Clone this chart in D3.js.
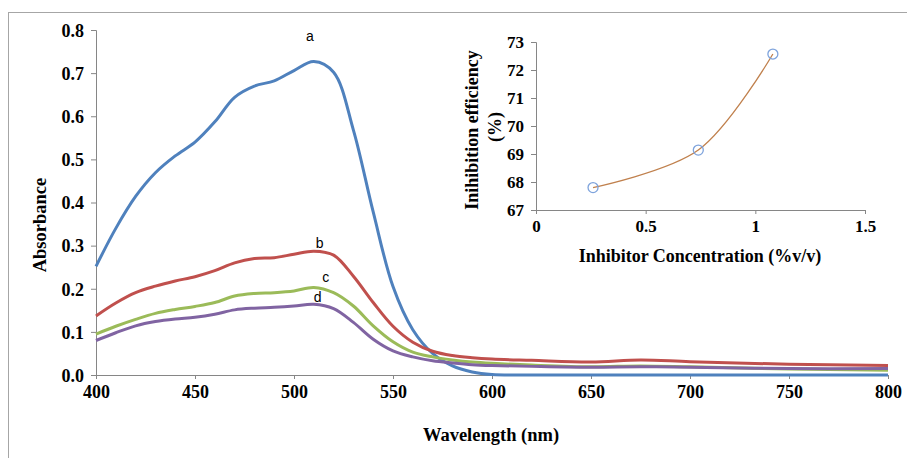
<!DOCTYPE html>
<meta charset="utf-8">
<style>
  body { margin: 0; background: #fff; }
  svg { display: block; }
  .tick text { font-family: "Liberation Serif", "Times New Roman", serif; font-weight: bold; font-size: 18px; fill: #000; }
  .inset .tick text { font-size: 17px; }
  .domain, .tick line { stroke: #868686; }
  .title { font-family: "Liberation Serif", "Times New Roman", serif; font-weight: bold; font-size: 18.5px; fill: #000; }
  .inset .title { font-size: 18px; }
  .tag { font-family: "Liberation Sans", Arial, sans-serif; font-size: 14px; fill: #000; }
</style>
<svg id="chart" width="907" height="458"></svg>
<script src="https://cdn.jsdelivr.net/npm/d3@7"></script>
<script>
// ---------------------------------------------------------------
//  data
// ---------------------------------------------------------------
var wavelength = [400, 410, 420, 430, 440, 450, 460, 470, 480, 490, 500, 510, 520,
                  530, 540, 550, 560, 570, 580, 590, 600, 620, 650, 675, 700, 750, 800];

var seriesA = [0.252, 0.340, 0.414, 0.469, 0.508, 0.540, 0.587, 0.644, 0.670, 0.682, 0.706, 0.727, 0.702,
               0.568, 0.378, 0.205, 0.105, 0.050, 0.021, 0.007, 0.001, 0, 0, 0, 0, 0, 0];
var seriesB = [0.137, 0.167, 0.191, 0.206, 0.218, 0.228, 0.242, 0.260, 0.270, 0.272, 0.280, 0.287, 0.278,
               0.229, 0.168, 0.113, 0.076, 0.055, 0.045, 0.040, 0.037, 0.034, 0.030, 0.035, 0.031, 0.025, 0.022];
var seriesC = [0.095, 0.113, 0.129, 0.143, 0.152, 0.159, 0.168, 0.183, 0.189, 0.191, 0.195, 0.203, 0.191,
               0.160, 0.114, 0.077, 0.053, 0.042, 0.035, 0.030, 0.027, 0.023, 0.019, 0.021, 0.019, 0.014, 0.011];
var seriesD = [0.080, 0.098, 0.114, 0.124, 0.130, 0.134, 0.141, 0.151, 0.155, 0.157, 0.160, 0.164, 0.154,
               0.122, 0.083, 0.056, 0.042, 0.033, 0.028, 0.024, 0.022, 0.020, 0.018, 0.019, 0.018, 0.015, 0.015];

var seriesNames  = ["a", "b", "c", "d"];
var seriesColors = ["#4f81bd", "#c0504d", "#9bbb59", "#8064a2"];

var yTicks = [0, 0.1, 0.2, 0.3, 0.4, 0.5, 0.6, 0.7, 0.8];
var xTicks = [400, 450, 500, 550, 600, 650, 700, 750, 800];

// inset
var concentration = [0.26, 0.74, 1.08];
var efficiency    = [67.8, 69.14, 72.57];
var insetXTicks = [0, 0.5, 1, 1.5];
var insetYTicks = [67, 68, 69, 70, 71, 72, 73];

// ---------------------------------------------------------------
//  main chart
// ---------------------------------------------------------------
var svg = d3.select("#chart");

// outer frame (only top and left edges show)
svg.append("rect")
    .attr("x", 8.5).attr("y", 12.5)
    .attr("width", 920).attr("height", 470)
    .attr("fill", "none").attr("stroke", "#a6a6a6");

var x = d3.scaleLinear().domain([400, 800]).range([96, 888]);
var y = d3.scaleLinear().domain([0, 0.8]).range([375, 30]);

svg.append("g")
    .attr("transform", "translate(0,375)")
    .call(d3.axisBottom(x).tickValues(xTicks).tickSizeOuter(0).tickSize(4).tickPadding(6));

svg.append("g")
    .attr("transform", "translate(96,0)")
    .call(d3.axisLeft(y).tickValues(yTicks).tickFormat(d3.format(".1f"))
            .tickSizeOuter(0).tickSize(5).tickPadding(7))
    .selectAll(".tick text").attr("dy", "0.35em");

var line = d3.line()
    .x(function(d) { return x(d[0]); })
    .y(function(d) { return y(d[1]); })
    .curve(d3.curveCatmullRom.alpha(0.5));

[seriesA, seriesB, seriesC, seriesD].forEach(function(s, i) {
  svg.append("path")
      .datum(d3.zip(wavelength, s))
      .attr("fill", "none")
      .attr("stroke", seriesColors[i])
      .attr("stroke-width", 3)
      .attr("stroke-linejoin", "round")
      .attr("d", line);
});

// curve letters
var tagPos = [[508, 0.775], [513, 0.295], [516, 0.215], [512, 0.17]];
tagPos.forEach(function(p, i) {
  svg.append("text").attr("class", "tag")
      .attr("x", x(p[0])).attr("y", y(p[1]))
      .attr("text-anchor", "middle")
      .text(seriesNames[i]);
});

svg.append("text").attr("class", "title")
    .attr("x", 491).attr("y", 441)
    .attr("text-anchor", "middle")
    .text("Wavelength (nm)");

svg.append("text").attr("class", "title")
    .attr("transform", "translate(46,225) rotate(-90)")
    .attr("text-anchor", "middle")
    .text("Absorbance");

// ---------------------------------------------------------------
//  inset
// ---------------------------------------------------------------
var inset = svg.append("g").attr("class", "inset");

var ix = d3.scaleLinear().domain([0, 1.5]).range([536, 865]);
var iy = d3.scaleLinear().domain([67, 73]).range([210, 42]);

inset.append("g")
    .attr("transform", "translate(0,210)")
    .call(d3.axisBottom(ix).tickValues(insetXTicks).tickFormat(d3.format(""))
            .tickSizeOuter(0).tickSize(4).tickPadding(6));

inset.append("g")
    .attr("transform", "translate(536,0)")
    .call(d3.axisLeft(iy).tickValues(insetYTicks).tickFormat(d3.format("d"))
            .tickSizeOuter(0).tickSize(5).tickPadding(7))
    .selectAll(".tick text").attr("dy", "0.35em");

var pts = d3.zip(concentration, efficiency);

inset.append("path")
    .datum(pts)
    .attr("fill", "none")
    .attr("stroke", "#c0804d")
    .attr("stroke-width", 1.3)
    .attr("d", d3.line()
        .x(function(d) { return ix(d[0]); })
        .y(function(d) { return iy(d[1]); })
        .curve(d3.curveCatmullRom.alpha(0.5)));

inset.selectAll("circle")
    .data(pts)
    .enter().append("circle")
    .attr("cx", function(d) { return ix(d[0]); })
    .attr("cy", function(d) { return iy(d[1]); })
    .attr("r", 5)
    .attr("fill", "none")
    .attr("stroke", "#7ea3dc")
    .attr("stroke-width", 1.3);

inset.append("text").attr("class", "title")
    .attr("x", 700).attr("y", 262)
    .attr("text-anchor", "middle")
    .text("Inhibitor Concentration (%v/v)");

inset.append("text").attr("class", "title")
    .attr("transform", "translate(478,130) rotate(-90)")
    .attr("text-anchor", "middle")
    .text("Inihibition efficiency");

inset.append("text").attr("class", "title")
    .attr("transform", "translate(501,127) rotate(-90)")
    .attr("text-anchor", "middle")
    .text("(%)");
</script>
